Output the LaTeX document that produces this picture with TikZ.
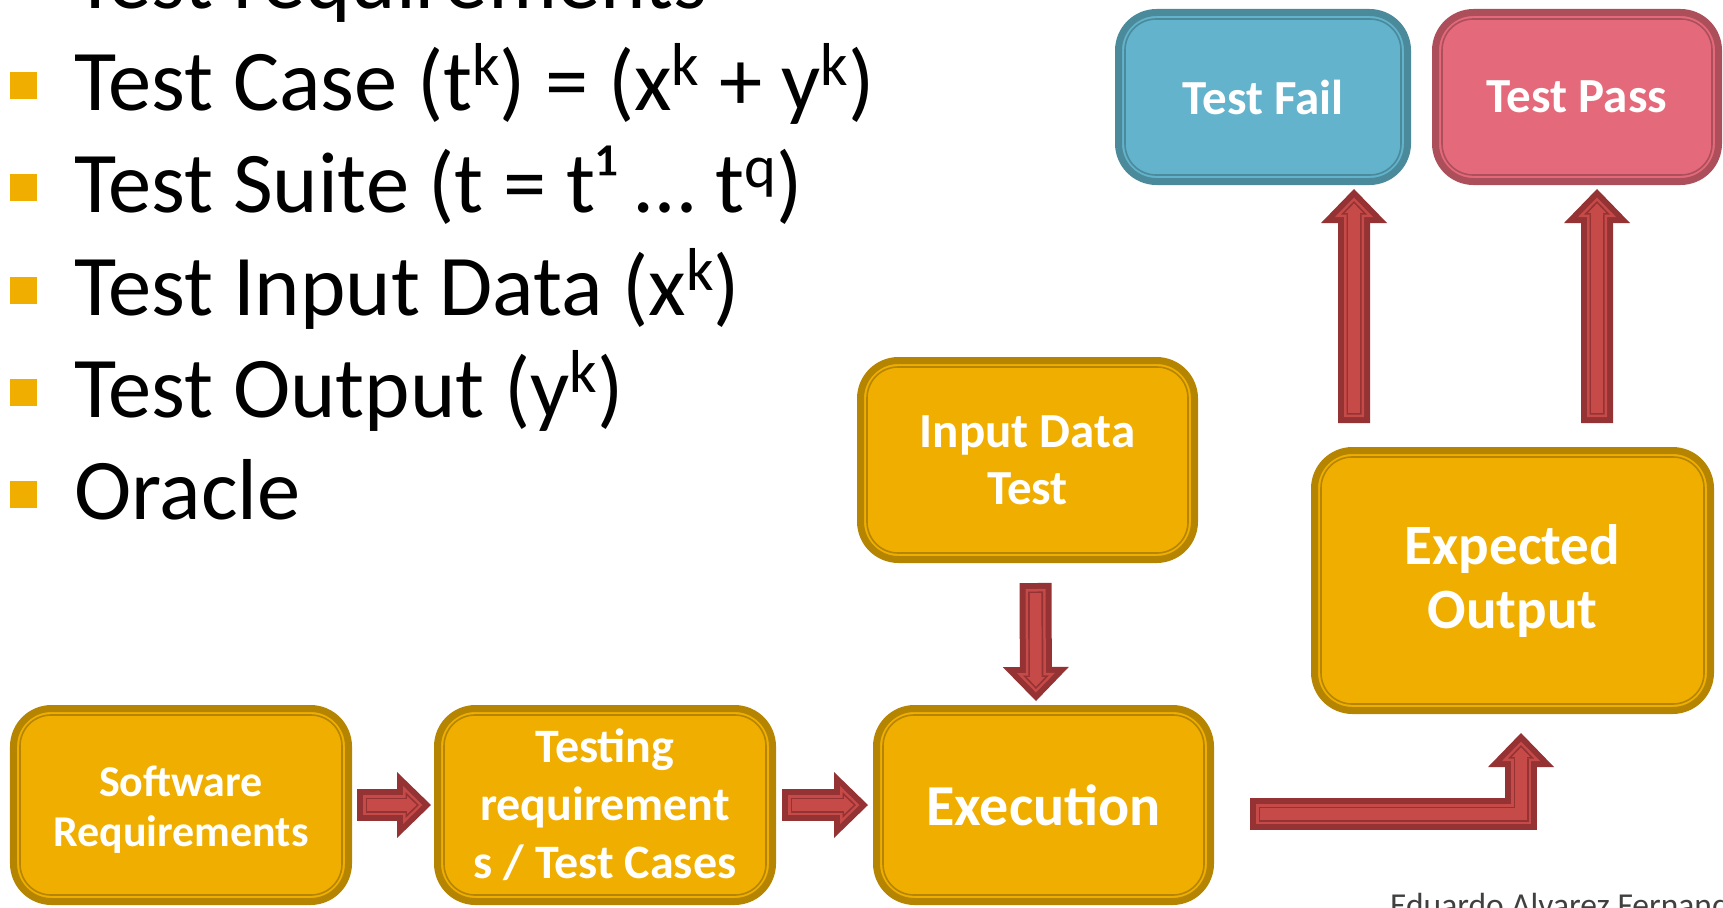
\documentclass[tikz,border=0pt]{standalone}
\usepackage{graphicx}
\usepackage{fontspec}
\setmainfont{Carlito}
\usetikzlibrary{arrows.meta}
\definecolor{boxfill}{HTML}{F0AE00}
\definecolor{boxline}{HTML}{B58400}
\definecolor{failfill}{HTML}{62B3CB}
\definecolor{failline}{HTML}{4A8A9B}
\definecolor{passfill}{HTML}{E46A7B}
\definecolor{passline}{HTML}{AD4F5B}
\definecolor{arrowfill}{HTML}{C64A48}
\definecolor{arrowline}{HTML}{943234}
\definecolor{authorgray}{HTML}{404040}
\newcommand{\upidx}[1]{\raisebox{0.28em}{\scalebox{0.7}{#1}}}
\tikzset{
  item/.style={anchor=base west,inner sep=0pt,font=\fontsize{86.5bp}{86.5bp}\selectfont},
  stage/.style={draw=#1line,fill=#1fill,line width=7bp,rounded corners=38bp,
    inner sep=0pt,align=center,text=white,
    path picture={\draw[#1line,line width=1.6bp,rounded corners=31bp]
      ([shift={(6.5bp,-6.5bp)}]path picture bounding box.north west) rectangle
      ([shift={(-6.5bp,6.5bp)}]path picture bounding box.south east);}},
  flow/.style={draw=arrowline,line width=32bp,-{Triangle[length=34bp,width=66bp,line width=0pt]},
    postaction={draw=arrowfill,line width=20bp,shorten <=6bp,shorten >=8.5bp,
      -{Triangle[length=19.5bp,width=38bp,line width=0pt]}},
    postaction={draw=arrowline,line width=15bp,shorten <=8.5bp,shorten >=12bp,
      -{Triangle[length=13.5bp,width=26bp,line width=0pt]}},
    postaction={draw=arrowfill,line width=11.6bp,shorten <=10.2bp,shorten >=14.4bp,
      -{Triangle[length=9.4bp,width=18bp,line width=0pt]}}}
}
\begin{document}
\begin{tikzpicture}[x=1bp,y=-1bp]
\useasboundingbox (0,0) rectangle (1723,907);
% bullet list
\node[item] (req) at (74,8) {Test requirements};
\fill[boxfill] (10,72) rectangle (37,99);
\node[item] (tcase) at (74,110) {Test Case (t\upidx{k}) = (x\upidx{k} + y\upidx{k})};
\fill[boxfill] (10,174) rectangle (37,201);
\node[item] (tsuite) at (74,212) {Test Suite (t = t¹ … t\upidx{q})};
\fill[boxfill] (10,277) rectangle (37,304);
\node[item] (tinput) at (74,315) {Test Input Data (x\upidx{k})};
\fill[boxfill] (10,379) rectangle (37,406);
\node[item] (toutput) at (74,417) {Test Output (y\upidx{k})};
\fill[boxfill] (10,481) rectangle (37,508);
\node[item] (oracle) at (74,519) {Oracle};
% boxes
\node[stage=fail,minimum width=289bp,minimum height=169bp,
  font=\bfseries\fontsize{49bp}{57bp}\selectfont] (tf) at (1263,97) {Test Fail};
\node[stage=pass,minimum width=283bp,minimum height=169bp,
  font=\bfseries\fontsize{49bp}{57bp}\selectfont] (tp) at (1577,97) {Test Pass};
\node[stage=box,minimum width=334bp,minimum height=199bp,
  font=\bfseries\fontsize{49bp}{57bp}\selectfont] (id) at (1027.5,460) {Input Data\\Test};
\node[stage=box,minimum width=396bp,minimum height=260bp,
  font=\bfseries\fontsize{57bp}{64bp}\selectfont] (eo) at (1512.5,580.5) {Expected\\Output};
\node[stage=box,minimum width=335bp,minimum height=193bp,
  font=\bfseries\fontsize{44bp}{50bp}\selectfont] (sr) at (181,805) {\\[-10bp]Software\\Requirements};
\node[stage=box,minimum width=335bp,minimum height=193bp,
  font=\bfseries\fontsize{48bp}{58bp}\selectfont] (tr) at (605,805) {Testing\\requirement\\s / Test Cases};
\node[stage=box,minimum width=334bp,minimum height=193bp,
  font=\bfseries\fontsize{58bp}{64bp}\selectfont] (ex) at (1043.5,805) {Execution};
% arrows
\draw[flow] ([xshift=5bp]sr.east) -- ([xshift=-3bp]tr.west);
\draw[flow] ([xshift=6bp]tr.east) -- ([xshift=-5bp]ex.west);
\draw[flow] ([xshift=8bp,yshift=-20bp]id.south) -- ([xshift=-7.5bp,yshift=4bp]ex.north);
\draw[flow] ([xshift=36bp,yshift=-9bp]ex.east) -| ([xshift=8.5bp,yshift=-19bp]eo.south);
\draw[flow] ([xshift=-158.5bp,yshift=24bp]eo.north) -- ([xshift=91bp,yshift=-4bp]tf.south);
\draw[flow] ([xshift=84.5bp,yshift=24bp]eo.north) -- ([xshift=20bp,yshift=-4bp]tp.south);
\node[anchor=base west,inner sep=0pt,text=authorgray,font=\fontsize{33.5bp}{33.5bp}\selectfont]
  (author) at (1390,916) {Eduardo Alvarez Fernandez};
\end{tikzpicture}
\end{document}
